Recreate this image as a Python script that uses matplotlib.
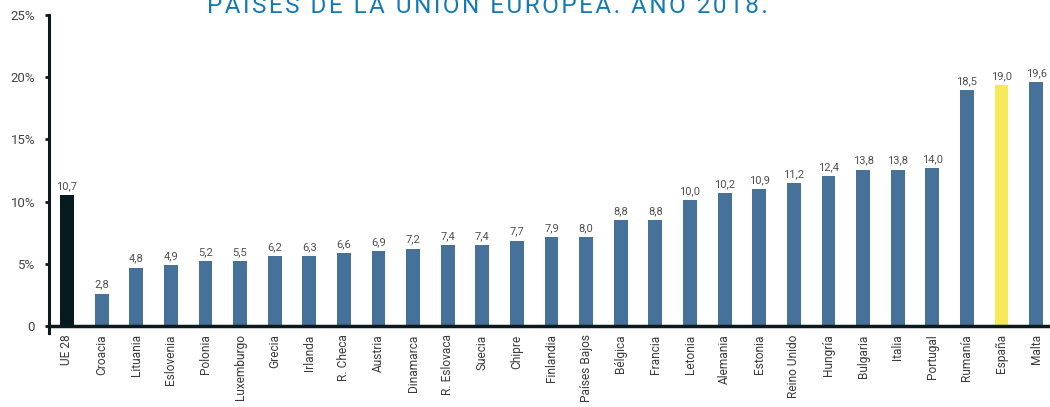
import matplotlib
matplotlib.use('Agg')
import matplotlib.pyplot as plt
import numpy as np

countries = ['UE 28', 'Croacia', 'Lituania', 'Eslovenia', 'Polonia', 'Luxemburgo',
             'Grecia', 'Irlanda', 'R. Checa', 'Austria', 'Dinamarca', 'R. Eslovaca',
             'Suecia', 'Chipre', 'Finlandia', 'Países Bajos', 'Bélgica', 'Francia',
             'Letonia', 'Alemania', 'Estonia', 'Reino Unido', 'Hungría', 'Bulgaria',
             'Italia', 'Portugal', 'Rumanía', 'España', 'Malta']
# printed labels
values = [10.7, 2.8, 4.8, 4.9, 5.2, 5.5, 6.2, 6.3, 6.6, 6.9, 7.2, 7.4, 7.4, 7.7,
          7.9, 8.0, 8.8, 8.8, 10.0, 10.2, 10.9, 11.2, 12.4, 13.8, 13.8, 14.0,
          18.5, 19.0, 19.6]
# bar heights as drawn in the original (they don't quite match the labels)
bar_heights = [10.5, 2.6, 4.7, 4.9, 5.2, 5.2, 5.6, 5.6, 5.85, 6.0, 6.2, 6.5, 6.5,
               6.85, 7.15, 7.15, 8.5, 8.5, 10.1, 10.7, 11.0, 11.5, 12.05, 12.55,
               12.55, 12.7, 18.95, 19.35, 19.6]
yticks = [0, 5, 10, 15, 20, 25]
ytick_labels = ['0', '5%', '10%', '15%', '20%', '25%']

plt.rcParams['font.family'] = ['Roboto', 'DejaVu Sans']

blue = '#46729a'
colors = [blue] * len(countries)
colors[0] = '#051b20'
colors[countries.index('España')] = '#f6ea58'

fig = plt.figure(figsize=(10.5, 4.07), dpi=100)
ax = fig.add_axes([49 / 1050, 1 - 326 / 407, 1 - 49 / 1050, (326 - 15) / 407])

x = np.arange(len(countries))
ax.bar(x, bar_heights, width=0.4, color=colors, zorder=2)

for xi, h, v in zip(x, bar_heights, values):
    ax.annotate(f'{v:.1f}'.replace('.', ','), (xi, h), xytext=(0, 3),
                textcoords='offset points', ha='center', va='bottom',
                fontsize=8, color='#505050')

ax.set_xlim(-0.52, len(countries) - 0.6)
ax.set_ylim(0, 25)
ax.set_yticks(yticks)
ax.set_yticklabels(ytick_labels, fontsize=9.5, color='#444444')
ax.set_xticks(x)
ax.set_xticklabels(countries, rotation=90, fontsize=8.6, color='#3a3a3a')
ax.tick_params(axis='x', length=0, pad=6)
ax.tick_params(axis='y', length=3, width=2, color='#0b1a1e', pad=7)

for s in ['top', 'right']:
    ax.spines[s].set_visible(False)
ax.spines['left'].set_linewidth(2.2)
ax.spines['left'].set_color('#0b1a1e')
ax.spines['bottom'].set_linewidth(2.5)
ax.spines['bottom'].set_color('#0b1a1e')
ax.spines['left'].set_bounds(-0.6, 25)

title = 'PAÍSES DE LA UNIÓN EUROPEA. AÑO 2018.'
fig.text(487 / 1050, 1 - 13 / 407, '\u200a'.join(title), ha='center', va='baseline',
         fontsize=17.5, color='#127ab4')

fig.savefig('out.png', dpi=100)
